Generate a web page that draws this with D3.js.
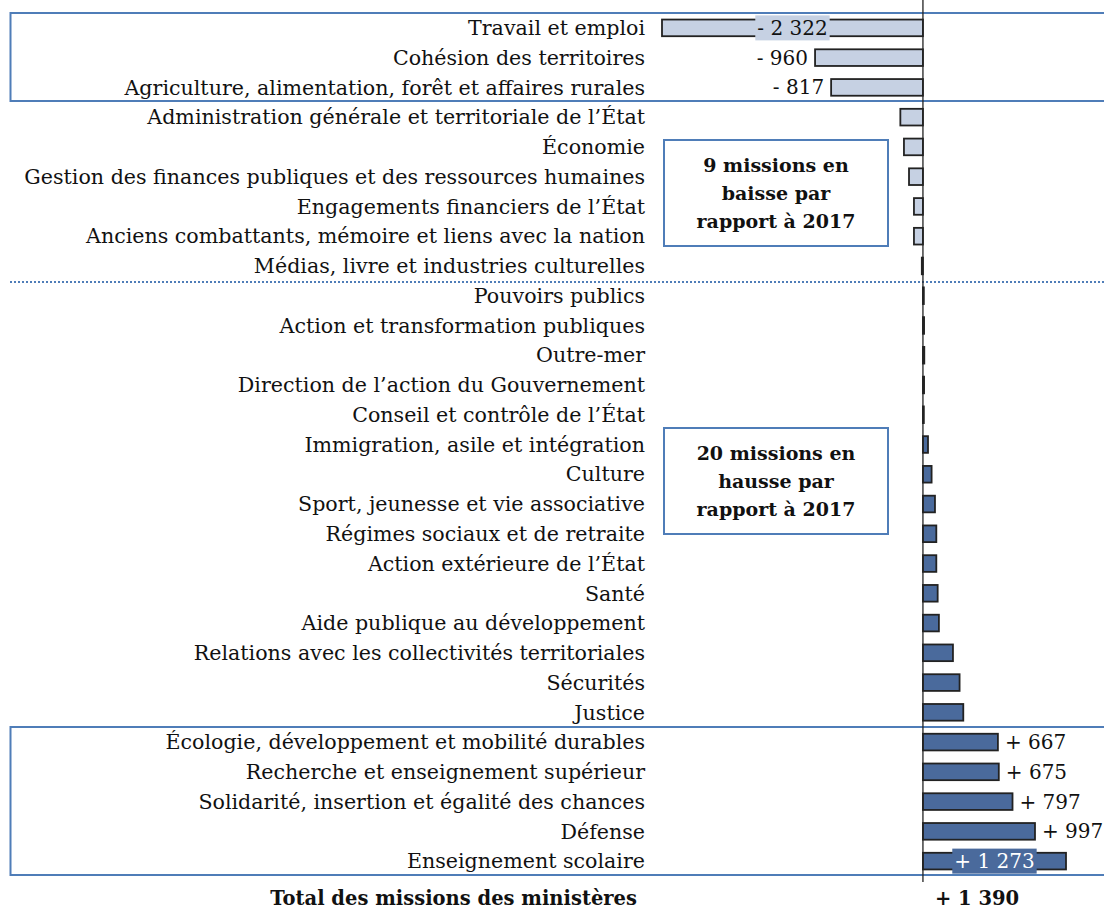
<!DOCTYPE html>
<html>
<head>
<meta charset="utf-8">
<script src="https://cdn.jsdelivr.net/npm/d3@7"></script>
<style>
  body { margin: 0; background: #fff; }
  svg { display: block; font-family: "DejaVu Serif", "Liberation Serif", serif; }
</style>
</head>
<body>
<div id="chart"></div>
<script>
// missions, ordered top to bottom
const missions = [
  "Travail et emploi",
  "Cohésion des territoires",
  "Agriculture, alimentation, forêt et affaires rurales",
  "Administration générale et territoriale de l’État",
  "Économie",
  "Gestion des finances publiques et des ressources humaines",
  "Engagements financiers de l’État",
  "Anciens combattants, mémoire et liens avec la nation",
  "Médias, livre et industries culturelles",
  "Pouvoirs publics",
  "Action et transformation publiques",
  "Outre-mer",
  "Direction de l’action du Gouvernement",
  "Conseil et contrôle de l’État",
  "Immigration, asile et intégration",
  "Culture",
  "Sport, jeunesse et vie associative",
  "Régimes sociaux et de retraite",
  "Action extérieure de l’État",
  "Santé",
  "Aide publique au développement",
  "Relations avec les collectivités territoriales",
  "Sécurités",
  "Justice",
  "Écologie, développement et mobilité durables",
  "Recherche et enseignement supérieur",
  "Solidarité, insertion et égalité des chances",
  "Défense",
  "Enseignement scolaire"
];

// change vs 2017 (M€)
const changes = [
  -2322, -960, -817, -201, -169, -124, -80, -80, -10,
  8, 10, 12, 10, 8, 45, 77, 107, 119, 119, 131, 142, 267, 326, 359,
  667, 675, 797, 997, 1273
];

// which bars carry a value label
const labelled = [
  "Travail et emploi", "Cohésion des territoires",
  "Agriculture, alimentation, forêt et affaires rurales",
  "Écologie, développement et mobilité durables",
  "Recherche et enseignement supérieur",
  "Solidarité, insertion et égalité des chances",
  "Défense", "Enseignement scolaire"
];
const insideLabels = ["Travail et emploi", "Enseignement scolaire"];

const boxTexts = [
  ["9 missions en", "baisse par", "rapport à 2017"],
  ["20 missions en", "hausse par", "rapport à 2017"]
];
const totalLabel = "Total des missions des ministères";
const totalValue = 1390;

const data = missions.map((m, i) => ({ name: m, value: changes[i] }));

const width = 1104, height = 910;
const fr = d3.formatLocale({ decimal: ",", thousands: "\u00a0", grouping: [3], currency: ["", " €"] });
const num = fr.format(",d");
const fmt = v => (v < 0 ? "- " : "+ ") + num(Math.abs(v));

const svg = d3.select("#chart").append("svg")
  .attr("width", width)
  .attr("height", height);

const x = d3.scaleLinear()
  .domain([-2322, 1273])
  .range([662, 1066]);

const y = d3.scaleBand()
  .domain(missions)
  .range([13, 876])
  .paddingInner(0.44)
  .paddingOuter(0.22);

const blue = "#4f7db8";
const lightFill = "#c6d1e3";
const darkFill = "#4a6a9c";

// frames around top 3 and bottom 5 rows
svg.append("rect")
  .attr("x", 10.5).attr("y", 13)
  .attr("width", width + 10).attr("height", 88)
  .attr("fill", "none").attr("stroke", blue).attr("stroke-width", 2);

svg.append("rect")
  .attr("x", 10.5).attr("y", 727)
  .attr("width", width + 10).attr("height", 148)
  .attr("fill", "none").attr("stroke", blue).attr("stroke-width", 2);

// dotted separator between decreases and increases
svg.append("line")
  .attr("x1", 10).attr("x2", width)
  .attr("y1", 282).attr("y2", 282)
  .attr("stroke", blue).attr("stroke-width", 2)
  .attr("stroke-dasharray", "2,2");

// category labels
svg.append("g").selectAll("text")
  .data(data)
  .join("text")
  .attr("x", 645)
  .attr("y", d => y(d.name) + y.bandwidth() / 2)
  .attr("dy", "0.35em")
  .attr("text-anchor", "end")
  .attr("font-size", 20.6)
  .attr("fill", "#111")
  .text(d => d.name);

// bars
svg.append("g").selectAll("rect")
  .data(data)
  .join("rect")
  .attr("x", d => x(Math.min(0, d.value)))
  .attr("y", d => y(d.name))
  .attr("width", d => Math.abs(x(d.value) - x(0)))
  .attr("height", y.bandwidth())
  .attr("fill", d => d.value < 0 ? lightFill : darkFill)
  .attr("stroke", "#222")
  .attr("stroke-width", 1.8);

// zero axis
svg.append("line")
  .attr("x1", x(0)).attr("x2", x(0))
  .attr("y1", 0).attr("y2", 882)
  .attr("stroke", "#222").attr("stroke-width", 1.3);

// value labels
const lab = svg.append("g");
data.filter(d => labelled.includes(d.name)).forEach(d => {
  const cy = y(d.name) + y.bandwidth() / 2;
  if (insideLabels.includes(d.name)) {
    const cx = (x(d.value) + x(0)) / 2;
    const t = lab.append("text")
      .attr("x", cx).attr("y", cy).attr("dy", "0.35em")
      .attr("text-anchor", "middle")
      .attr("font-size", 20)
      .attr("fill", d.value < 0 ? "#111" : "#fff")
      .text(fmt(d.value));
    const bb = t.node().getBBox();
    lab.insert("rect", () => t.node())
      .attr("x", bb.x - 2).attr("y", cy - 12.5)
      .attr("width", bb.width + 4).attr("height", 25)
      .attr("fill", d.value < 0 ? lightFill : darkFill);
  } else {
    lab.append("text")
      .attr("x", d.value < 0 ? x(d.value) - 7 : x(d.value) + 7)
      .attr("y", cy).attr("dy", "0.35em")
      .attr("text-anchor", d.value < 0 ? "end" : "start")
      .attr("font-size", 20)
      .attr("fill", "#111")
      .text(fmt(d.value));
  }
});

// annotation boxes
const boxes = [
  { y0: 140, texts: boxTexts[0] },
  { y0: 428, texts: boxTexts[1] }
];
boxes.forEach(b => {
  svg.append("rect")
    .attr("x", 664).attr("y", b.y0)
    .attr("width", 224).attr("height", 106)
    .attr("fill", "#fff").attr("stroke", blue).attr("stroke-width", 2);
  b.texts.forEach((t, i) => {
    svg.append("text")
      .attr("x", 776).attr("y", b.y0 + 32 + i * 28)
      .attr("text-anchor", "middle")
      .attr("font-size", 19)
      .attr("font-weight", "bold")
      .attr("fill", "#111")
      .text(t);
  });
});

// total row
svg.append("text")
  .attr("x", 637).attr("y", 905)
  .attr("text-anchor", "end")
  .attr("font-size", 19.5).attr("font-weight", "bold")
  .attr("fill", "#111")
  .text(totalLabel);
svg.append("text")
  .attr("x", 977).attr("y", 905)
  .attr("text-anchor", "middle")
  .attr("font-size", 19.5).attr("font-weight", "bold")
  .attr("fill", "#111")
  .text(fmt(totalValue));
</script>
</body>
</html>
